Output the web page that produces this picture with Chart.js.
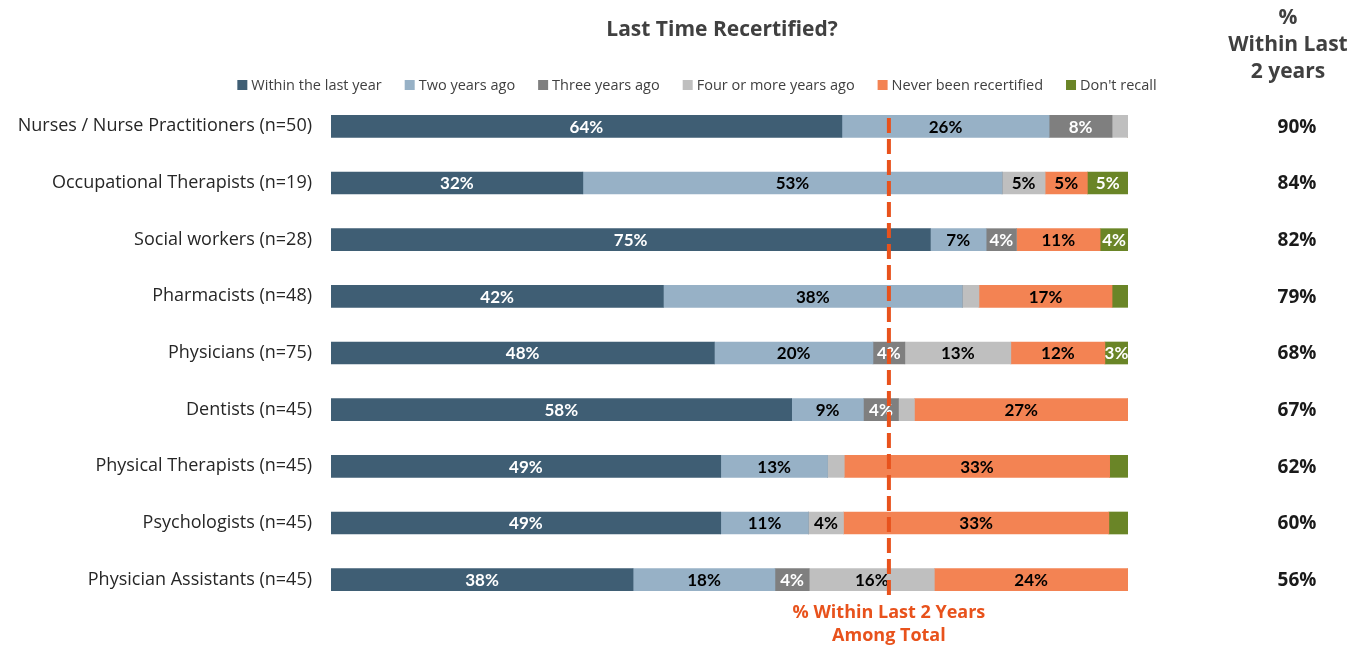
<!DOCTYPE html>
<html>
<head>
<meta charset="utf-8">
<script src="https://cdn.jsdelivr.net/npm/chart.js@4.4.1/dist/chart.umd.min.js"></script>
<style>
  html, body { margin: 0; padding: 0; background: #fff; }
  #wrap { width: 1369px; height: 646px; }
</style>
</head>
<body>
<div id="wrap"><canvas id="chartrecert"></canvas></div>
<script>
const categories = [
  'Nurses / Nurse Practitioners (n=50)',
  'Occupational Therapists (n=19)',
  'Social workers (n=28)',
  'Pharmacists (n=48)',
  'Physicians (n=75)',
  'Dentists (n=45)',
  'Physical Therapists (n=45)',
  'Psychologists (n=45)',
  'Physician Assistants (n=45)'
];
const withinYear = [64.1, 31.6, 75.2, 41.7, 48.1, 57.8, 48.9, 48.9, 37.9];
const twoYears   = [26.0, 52.6, 7.0, 37.5, 19.9, 9.0, 13.4, 11.0, 17.8];
const threeYears = [7.9, 0, 3.8, 0, 4.0, 4.4, 0, 0, 4.3];
const fourPlus   = [2.0, 5.4, 0, 2.1, 13.3, 2.0, 2.1, 4.4, 15.7];
const neverRecert = [0, 5.3, 10.5, 16.7, 11.8, 26.8, 33.3, 33.3, 24.3];
const dontRecall = [0, 5.1, 3.5, 2.0, 2.9, 0, 2.3, 2.4, 0];
const withinTwo = [90, 84, 82, 79, 68, 67, 62, 60, 56];
const totalWithinTwo = 70;

const seriesNames = ['Within the last year', 'Two years ago', 'Three years ago', 'Four or more years ago', 'Never been recertified', "Don't recall"];
const seriesColors = ['#3F5E74', '#97B1C6', '#7F7F7F', '#BFBFBF', '#F38353', '#6A8527'];
const labelColors = ['#ffffff', '#000000', '#ffffff', '#000000', '#000000', '#ffffff'];
const seriesData = [withinYear, twoYears, threeYears, fourPlus, neverRecert, dontRecall];

const FONT = '"Open Sans", sans-serif';
const NARROW = 'Lato, sans-serif';

const overlay = {
  id: 'overlay',
  afterDatasetsDraw(chart) {
    const c = chart.ctx;
    const area = chart.chartArea;
    c.save();

    // value labels inside bars
    c.font = 'bold 17px ' + NARROW;
    c.textAlign = 'center';
    c.textBaseline = 'middle';
    chart.data.datasets.forEach((ds, di) => {
      const meta = chart.getDatasetMeta(di);
      meta.data.forEach((bar, i) => {
        const v = Math.round(ds.data[i]);
        if (v < 3) return;
        c.fillStyle = labelColors[di];
        c.fillText(v + '%', (bar.x + bar.base) / 2, bar.y + 1);
      });
    });

    // title
    c.fillStyle = '#404040';
    c.font = 'bold 21px ' + FONT;
    c.fillText('Last Time Recertified?', 722, 30);

    // legend
    c.font = '14.5px ' + FONT;
    c.textAlign = 'left';
    let total = 0;
    const widths = seriesNames.map(n => c.measureText(n).width);
    widths.forEach(w => { total += 14 + w; });
    total += 23 * (seriesNames.length - 1);
    let lx = 697 - total / 2;
    seriesNames.forEach((n, i) => {
      c.fillStyle = seriesColors[i];
      c.fillRect(lx, 80, 10, 10);
      c.fillStyle = '#404040';
      c.fillText(n, lx + 14, 86);
      lx += 14 + widths[i] + 23;
    });

    // right column
    c.textAlign = 'center';
    c.fillStyle = '#404040';
    c.font = 'bold 21px ' + FONT;
    c.fillText('%', 1288, 18);
    c.fillText('Within Last', 1288, 45);
    c.fillText('2 years', 1288, 72);
    c.fillStyle = '#1a1a1a';
    c.font = 'bold 19px ' + FONT;
    const meta0 = chart.getDatasetMeta(0);
    withinTwo.forEach((v, i) => {
      c.fillText(v + '%', 1297, meta0.data[i].y + 1);
    });

    // dashed reference line
    const x = chart.scales.x.getPixelForValue(totalWithinTwo);
    c.strokeStyle = '#E8521C';
    c.lineWidth = 4;
    c.setLineDash([15, 6]);
    c.beginPath();
    c.moveTo(x, area.top + 20);
    c.lineTo(x, 600);
    c.stroke();
    c.setLineDash([]);
    c.fillStyle = '#E8521C';
    c.font = 'bold 18px ' + FONT;
    c.fillText('% Within Last 2 Years', x, 613);
    c.fillText('Among Total', x, 636);

    c.restore();
  }
};

const ctx = document.getElementById('chartrecert').getContext('2d');

const chartrecert = new Chart(ctx, {
  type: 'bar',
  data: {
    labels: categories,
    datasets: seriesData.map((d, i) => ({
      label: seriesNames[i],
      data: d,
      backgroundColor: seriesColors[i],
      borderWidth: 0,
      barThickness: 22
    }))
  },
  options: {
    indexAxis: 'y',
    responsive: true,
    maintainAspectRatio: false,
    animation: false,
    layout: {
      padding: { left: 0, right: 241, top: 98, bottom: 38 }
    },
    scales: {
      x: {
        stacked: true,
        min: 0,
        max: 100,
        display: false
      },
      y: {
        stacked: true,
        grid: { display: false, drawTicks: false },
        border: { display: false },
        ticks: {
          color: '#262626',
          padding: 19,
          font: { family: FONT, size: 18 }
        },
        afterFit(scale) { scale.width = 331; }
      }
    },
    plugins: {
      legend: { display: false },
      title: { display: false },
      tooltip: { enabled: false }
    }
  },
  plugins: [overlay]
});
</script>
</body>
</html>
